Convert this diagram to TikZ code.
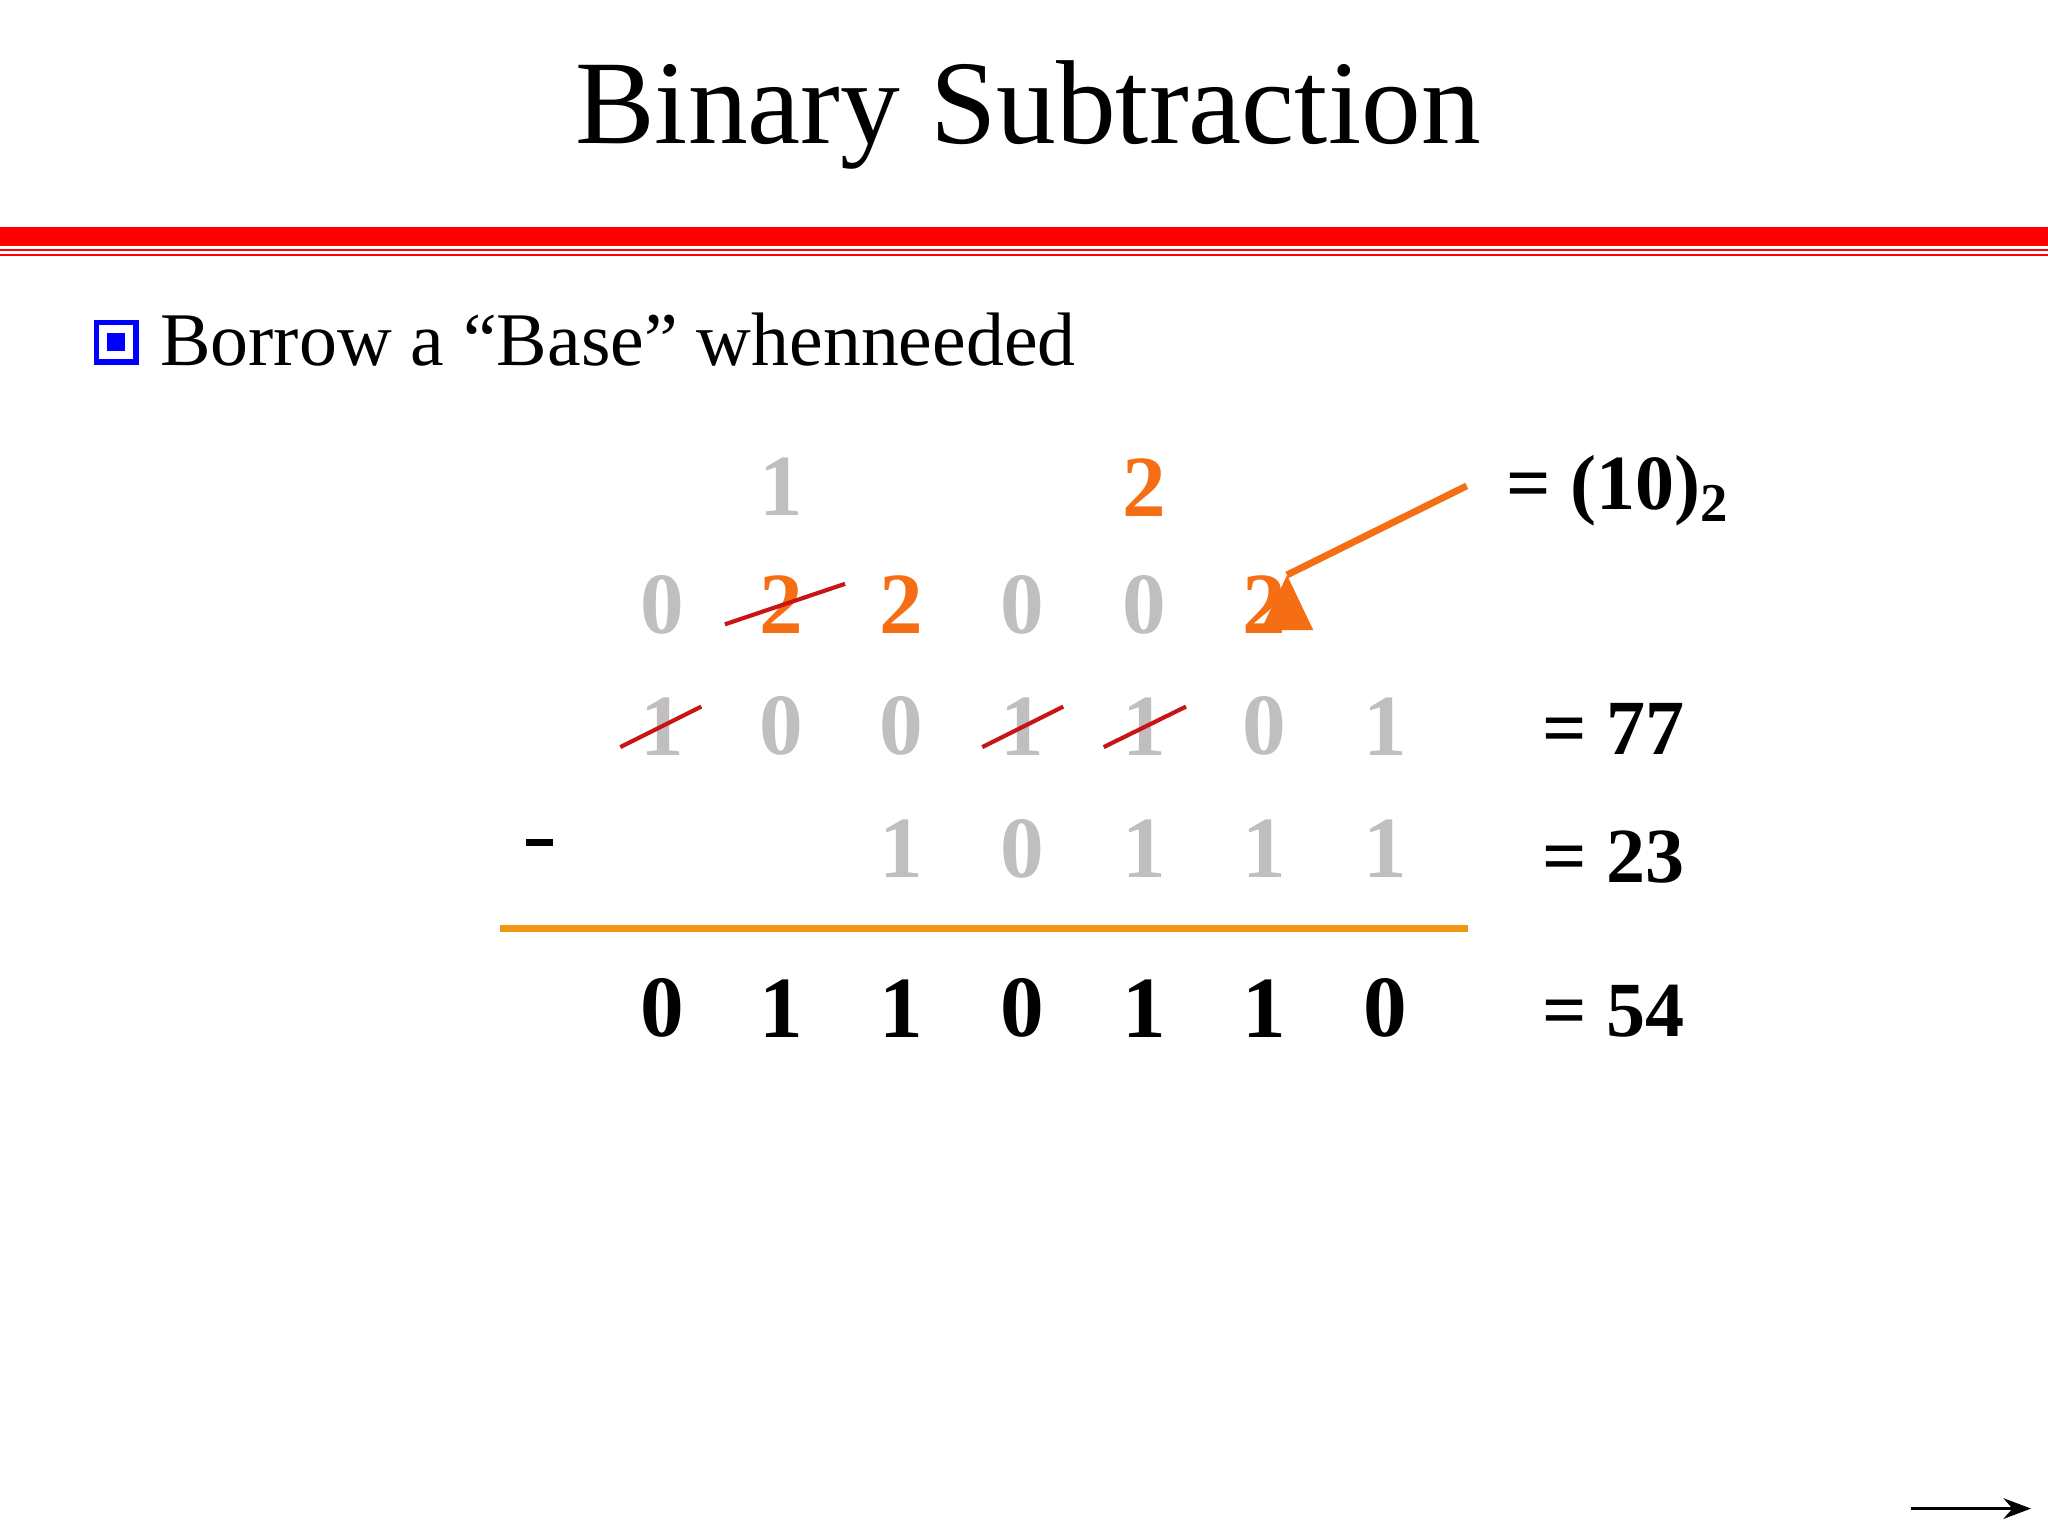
\documentclass[tikz,border=0pt]{standalone}
\usepackage{fontspec}
\setmainfont{Liberation Serif}
\usetikzlibrary{arrows.meta}
\definecolor{dg}{RGB}{192,190,192}
\definecolor{og}{RGB}{245,110,20}
\definecolor{ol}{RGB}{242,150,20}
\definecolor{dr}{RGB}{200,20,20}
\tikzset{
 dig/.style={font=\fontsize{19}{19}\selectfont\bfseries,inner sep=0pt},
 gd/.style={dig,text=dg},
 od/.style={dig,text=og},
 bd/.style={dig,text=black},
 eq/.style={font=\fontsize{17}{17}\selectfont\bfseries,inner sep=0pt,anchor=west},
 strike/.style={draw=dr,line width=0.9pt}
}
\begin{document}
\begin{tikzpicture}[x=0.01cm,y=-0.01cm]
\useasboundingbox (0,0) rectangle (1568,1176);
\node[inner sep=0pt] (title) at (787,88) {\fontsize{26}{26}\selectfont Binary Subtraction};
\fill[red] (0,174) rectangle (1568,188);
\draw[red,line width=0.4pt] (0,191.5) -- (1568,191.5);
\draw[red,line width=0.4pt] (0,195.5) -- (1568,195.5);
\draw[blue,line width=1.2pt] (74,247) rectangle (104,277);
\fill[blue] (82,255) rectangle (96,269);
\node[anchor=base west,inner sep=0pt] (bul) at (122,280) {\fontsize{16.5}{16.5}\selectfont Borrow a “Base” whenneeded};
% row 1
\node[gd] (r1c2) at (598,373) {1};
\node[od] (r1c5) at (876,373) {2};
% row 2
\node[gd] (r2c1) at (507,463) {0};
\node[od] (r2c2) at (598,463) {2};
\node[od] (r2c3) at (690,463) {2};
\node[gd] (r2c4) at (783,463) {0};
\node[gd] (r2c5) at (876,463) {0};
\node[od] (r2c6) at (968,463) {2};
% row 3
\foreach \d/\x/\n in {1/507/1,0/598/2,0/690/3,1/783/4,1/876/5,0/968/6,1/1061/7}
  \node[gd] (r3c\n) at (\x,556) {\d};
% row 4
\node[bd] (minus) at (413,645) {\rule{0.3em}{0.09em}};
\foreach \d/\x/\n in {1/690/3,0/783/4,1/876/5,1/968/6,1/1061/7}
  \node[gd] (r4c\n) at (\x,650) {\d};
\draw[ol,line width=1.5pt] (383,711) -- (1124,711);
% result
\foreach \d/\x/\n in {0/507/1,1/598/2,1/690/3,0/783/4,1/876/5,1/968/6,0/1061/7}
  \node[bd] (r5c\n) at (\x,772) {\d};
% strikes
\draw[strike] (555,478) -- (647,447);
\draw[strike] (475,572) -- (537,541);
\draw[strike] (752,572) -- (814,541);
\draw[strike] (845,572) -- (908,541);
% labels
\node[eq] (e10) at (1153,376) {= (10)\textsubscript{2}};
\node[eq] (e77) at (1180,558) {= 77};
\node[eq] (e23) at (1180,656) {= 23};
\node[eq] (e54) at (1180,774) {= 54};
\coordinate (as) at (1123,372);
\draw[og,line width=1.5pt,-{Triangle[length=12pt,width=11pt]}] (as) -- (r2c6.north east) ++(0,0);
\coordinate (n1) at (1463,1155);
\coordinate (n2) at (1555,1155);
\draw[-{Stealth[length=6pt]},line width=0.6pt] (n1) -- (n2);
\end{tikzpicture}
\end{document}
